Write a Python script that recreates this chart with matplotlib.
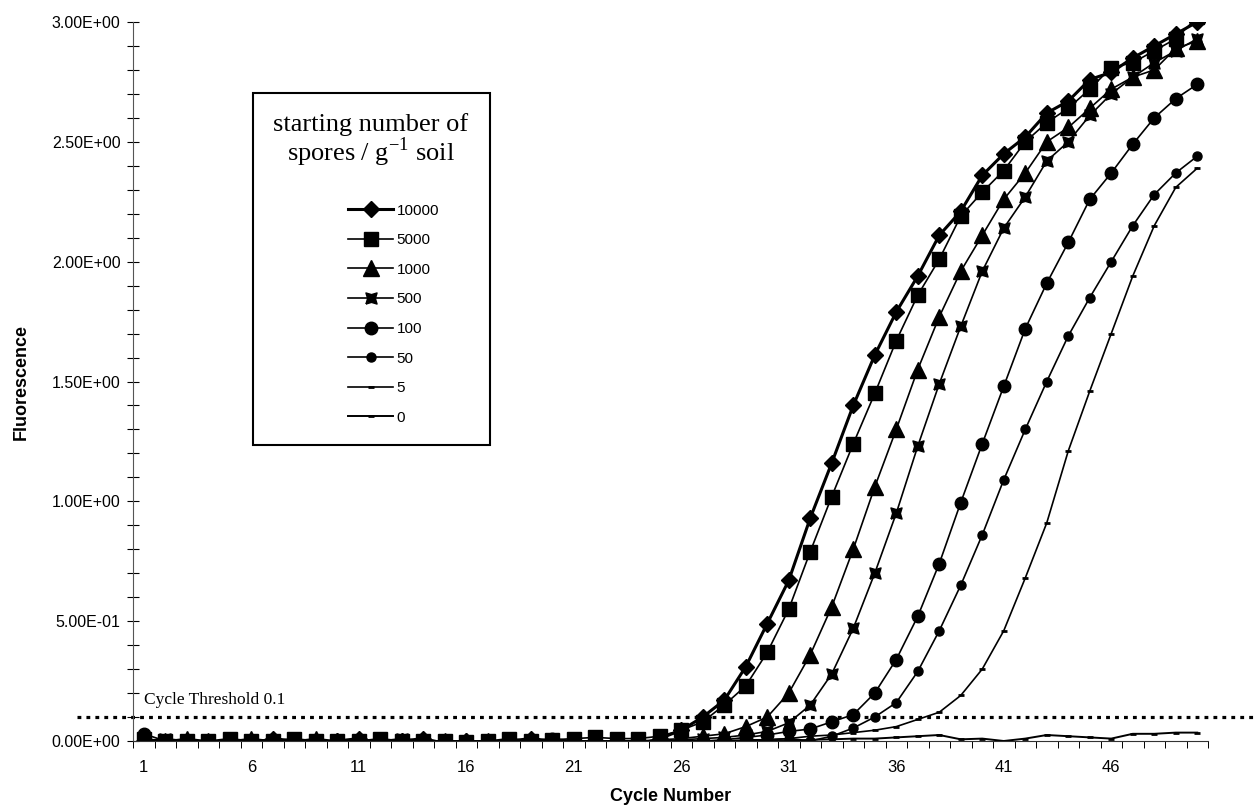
import numpy as np
import matplotlib
matplotlib.use("Agg")
from matplotlib import pyplot as plt
from matplotlib.ticker import FuncFormatter, MultipleLocator, FixedLocator
from matplotlib.patches import Rectangle

plt.rcParams['font.family'] = ['Liberation Sans', 'DejaVu Sans']

cycles = list(range(1, 51))

s10000 = [0.00, -0.01, 0.00, -0.01, 0.00, -0.01, 0.01, 0.00, -0.01, 0.00,
          0.01, -0.01, 0.00, 0.01, -0.01, 0.00, -0.01, 0.00, 0.01, 0.00,
          -0.01, -0.01, 0.00, -0.015, 0.01, 0.045, 0.10, 0.17, 0.31, 0.49,
          0.67, 0.93, 1.16, 1.40, 1.61, 1.79, 1.94, 2.11, 2.21, 2.36,
          2.45, 2.52, 2.62, 2.67, 2.76, 2.79, 2.85, 2.90, 2.95, 3.00]
s5000 = [0.01, 0.00, 0.00, 0.00, 0.01, 0.00, 0.00, 0.01, 0.00, 0.00,
         0.00, 0.01, 0.00, 0.00, 0.00, -0.005, 0.00, 0.01, 0.00, 0.005,
         0.01, 0.015, 0.01, 0.01, 0.02, 0.045, 0.08, 0.15, 0.23, 0.37,
         0.55, 0.79, 1.02, 1.24, 1.45, 1.67, 1.86, 2.01, 2.19, 2.29,
         2.38, 2.50, 2.58, 2.64, 2.72, 2.81, 2.83, 2.88, 2.93, 3.02]
s1000 = [0.00, 0.00, 0.01, 0.00, 0.00, 0.01, 0.00, 0.00, 0.01, 0.00,
         0.00, 0.00, 0.00, 0.00, 0.00, 0.00, 0.00, 0.00, 0.00, 0.00,
         0.00, 0.00, 0.00, 0.00, 0.005, 0.01, 0.02, 0.03, 0.06, 0.10,
         0.20, 0.36, 0.56, 0.80, 1.06, 1.30, 1.55, 1.77, 1.96, 2.11,
         2.26, 2.37, 2.50, 2.56, 2.64, 2.72, 2.77, 2.80, 2.89, 2.92]
s500 = [0.00, 0.01, 0.00, 0.00, 0.00, 0.00, 0.00, 0.00, 0.00, 0.00,
        0.00, 0.00, 0.01, 0.00, 0.00, 0.00, 0.00, 0.00, 0.00, 0.00,
        0.00, 0.00, 0.00, 0.00, 0.00, 0.005, 0.01, 0.015, 0.025, 0.04,
        0.076, 0.15, 0.28, 0.47, 0.70, 0.95, 1.23, 1.49, 1.73, 1.96,
        2.14, 2.27, 2.42, 2.50, 2.61, 2.70, 2.77, 2.83, 2.88, 2.93]
s100 = [0.03, 0.00, 0.00, 0.00, 0.00, 0.00, 0.00, 0.00, 0.00, 0.00,
        0.00, 0.00, 0.00, 0.00, 0.00, 0.00, 0.00, 0.00, 0.00, 0.01,
        0.00, 0.00, 0.00, 0.00, 0.00, 0.00, 0.00, 0.005, 0.015, 0.025,
        0.04, 0.05, 0.08, 0.11, 0.20, 0.34, 0.52, 0.74, 0.995, 1.24,
        1.48, 1.72, 1.91, 2.08, 2.26, 2.37, 2.49, 2.60, 2.68, 2.74]
s50 = [0.00, 0.00, 0.00, 0.00, 0.00, 0.00, 0.00, 0.00, 0.00, 0.00,
       0.00, 0.00, 0.00, 0.00, 0.00, 0.00, 0.00, 0.00, 0.00, 0.00,
       0.00, 0.00, 0.00, 0.00, 0.00, 0.00, 0.00, 0.00, 0.005, 0.005,
       0.01, 0.00, 0.02, 0.054, 0.10, 0.16, 0.29, 0.46, 0.65, 0.86,
       1.09, 1.30, 1.50, 1.69, 1.85, 2.00, 2.15, 2.28, 2.37, 2.44]
s5 = [0.00, 0.00, 0.00, 0.00, 0.00, 0.00, 0.00, 0.00, 0.00, 0.00,
      0.00, 0.00, 0.00, 0.00, 0.00, 0.00, 0.00, 0.00, 0.00, 0.00,
      0.00, 0.00, 0.00, 0.00, 0.00, 0.00, 0.00, 0.00, 0.00, 0.005,
      0.01, 0.02, 0.025, 0.035, 0.045, 0.06, 0.09, 0.12, 0.19, 0.30,
      0.46, 0.68, 0.91, 1.21, 1.46, 1.70, 1.94, 2.15, 2.31, 2.39]
s0 = [0.00, 0.00, 0.00, 0.00, 0.00, 0.00, 0.00, 0.00, 0.00, 0.00,
      0.00, 0.00, 0.00, 0.00, 0.00, 0.00, 0.00, 0.00, 0.00, 0.00,
      0.00, 0.00, 0.00, 0.00, 0.00, 0.00, 0.00, 0.00, 0.00, 0.00,
      0.00, 0.005, 0.007, 0.01, 0.01, 0.015, 0.02, 0.025, 0.007, 0.01,
      0.00, 0.01, 0.025, 0.02, 0.015, 0.01, 0.03, 0.03, 0.035, 0.035]

labels = ['10000', '5000', '1000', '500', '100', '50', '5', '0']
threshold = 0.1
xtick_labels = [1, 6, 11, 16, 21, 26, 31, 36, 41, 46]

# square with notched sides for the 500 series
bowtie = [(-1, -1), (0, -0.7), (1, -1), (0.7, 0), (1, 1), (0, 0.7),
          (-1, 1), (-0.7, 0), (-1, -1)]

styles = [
    dict(marker='D', ms=8.5, lw=2.2),
    dict(marker='s', ms=9.5, lw=1.2),
    dict(marker='^', ms=11, lw=1.2),
    dict(marker=bowtie, ms=8, lw=1.2),
    dict(marker='o', ms=9, lw=1.2),
    dict(marker='o', ms=6.5, lw=1.2),
    dict(marker='_', ms=5, mew=2, lw=1.2),
    dict(marker='_', ms=5, mew=2, lw=1.4),
]

fig = plt.figure(figsize=(12.58, 8.08), dpi=100)
ax = fig.add_axes([133 / 1258, 67 / 808, 1075 / 1258, 719 / 808])

series = [s10000, s5000, s1000, s500, s100, s50, s5, s0]
lines = []
for ys, lab, st in zip(series, labels, styles):
    ln, = ax.plot(cycles, ys, color='black', mfc='black', mec='black',
                  label=lab, **st)
    lines.append(ln)

ax.axhline(threshold, xmin=-0.052, xmax=1.05, color='black', lw=2.3,
           linestyle=(0, (1.2, 1.6)), clip_on=False)
ax.text(1, threshold + 0.055, 'Cycle Threshold 0.1', family='Liberation Serif',
        fontsize=12.5, ha='left', va='baseline')

ax.set_xlim(0.5, 50.5)
ax.set_ylim(0, 3.0)
for s in ['top', 'right']:
    ax.spines[s].set_visible(False)
ax.spines['left'].set_color('#555555')
ax.spines['bottom'].set_color('#333333')

ax.yaxis.set_major_locator(MultipleLocator(0.5))
ax.yaxis.set_minor_locator(MultipleLocator(0.1))
ax.yaxis.set_major_formatter(FuncFormatter(lambda v, p: f'{v:.2E}'))
ax.tick_params(axis='y', which='both', direction='inout', length=8, width=0.8,
               labelsize=11.5, pad=5)

ax.xaxis.set_major_locator(FixedLocator(xtick_labels))
ax.xaxis.set_minor_locator(FixedLocator(np.arange(0.5, 51, 1)))
ax.tick_params(axis='x', which='major', length=0, labelsize=12, pad=14)
ax.tick_params(axis='x', which='minor', direction='out', length=5, width=0.7)

ax.set_xlabel('Cycle Number', fontsize=13, fontweight='bold', labelpad=9)
ax.set_ylabel('Fluorescence', fontsize=13, fontweight='bold', labelpad=16)

# legend box
fig.patches.append(Rectangle((253 / 1258, 1 - 445 / 808), 237 / 1258, 352 / 808,
                             transform=fig.transFigure, fill=False,
                             edgecolor='black', lw=1.5))
fig.text(371 / 1258, 1 - 131 / 808, 'starting number of',
         family='Liberation Serif', fontsize=19, ha='center', va='baseline')
fig.text(371 / 1258, 1 - 161 / 808, 'spores / g$^{\\mathregular{-1}}$ soil',
         family='Liberation Serif', fontsize=19, ha='center', va='baseline')
ax.legend(handles=lines, loc='upper left', frameon=False,
          bbox_to_anchor=(340 / 1258, 1 - 196 / 808),
          bbox_transform=fig.transFigure, fontsize=11, handlelength=3.0,
          handletextpad=0.2, labelspacing=1.02, borderpad=0)

fig.savefig('out.png', dpi=100)
